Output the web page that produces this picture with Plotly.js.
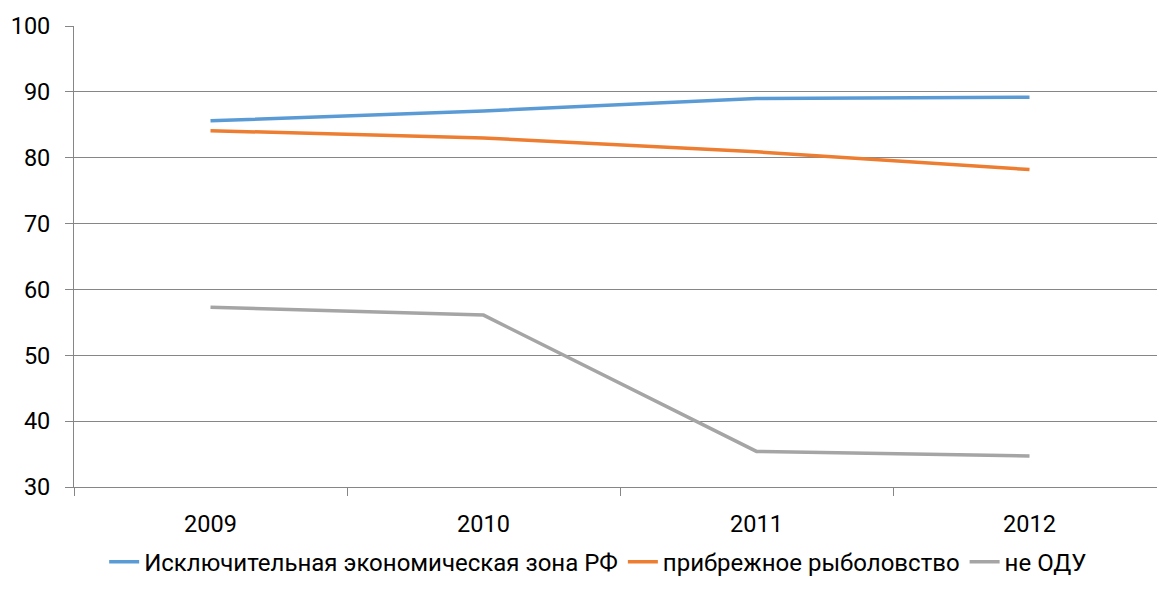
<!DOCTYPE html>
<html>
<head>
<meta charset="utf-8">
<script src="https://cdn.plot.ly/plotly-3.0.1.min.js"></script>
<style>html,body{margin:0;padding:0;background:#fff;}#chart{width:1157px;height:589px;}</style>
</head>
<body>
<div id="chart"></div>
<script>
const years = ["2009", "2010", "2011", "2012"];
const seriesNames = ["Исключительная экономическая зона РФ", "прибрежное рыболовство", "не ОДУ"];
const eezValues = [85.6, 87.1, 89.0, 89.2];
const coastalValues = [84.1, 83.0, 80.9, 78.2];
const nonTacValues = [57.3, 56.1, 35.4, 34.7];
const yTicks = [30, 40, 50, 60, 70, 80, 90, 100];

const colors = ["#5b9bd5", "#ed7d31", "#a5a5a5"];
const allValues = [eezValues, coastalValues, nonTacValues];

const traces = allValues.map((vals, i) => ({
  type: "scatter",
  mode: "lines",
  x: years,
  y: vals,
  name: seriesNames[i],
  line: {color: colors[i], width: 3.5}
}));

const font = {family: "Roboto, 'DejaVu Sans', sans-serif", size: 23.5, color: "#000"};
const legendFont = {family: "Roboto, 'DejaVu Sans', sans-serif", size: 24, color: "#000"};

const layout = {
  width: 1157,
  height: 589,
  margin: {l: 74, r: 0, t: 26, b: 102},
  paper_bgcolor: "#fff",
  plot_bgcolor: "#fff",
  font: font,
  showlegend: true,
  legend: {
    orientation: "h",
    x: 0.484, xanchor: "center",
    y: -0.163, yanchor: "middle",
    font: legendFont,
    itemwidth: 30,
    tracegroupgap: 0
  },
  xaxis: {
    type: "category",
    range: [-0.5, 3.467],
    showgrid: false,
    showline: true,
    linecolor: "#868686",
    linewidth: 1,
    ticks: "outside",
    tickson: "boundaries",
    ticklen: 8,
    tickcolor: "#868686",
    ticklabelstandoff: 16,
    tickfont: font,
    zeroline: false,
    fixedrange: true
  },
  yaxis: {
    range: [30, 100],
    tickvals: yTicks,
    ticktext: yTicks.map(String),
    showgrid: true,
    gridcolor: "#868686",
    gridwidth: 1,
    showline: true,
    linecolor: "#868686",
    linewidth: 1,
    ticks: "outside",
    ticklen: 8,
    tickcolor: "#868686",
    ticklabelstandoff: 10,
    tickfont: font,
    zeroline: false,
    fixedrange: true
  }
};

Plotly.newPlot("chart", traces, layout, {displayModeBar: false, staticPlot: true});
</script>
</body>
</html>
